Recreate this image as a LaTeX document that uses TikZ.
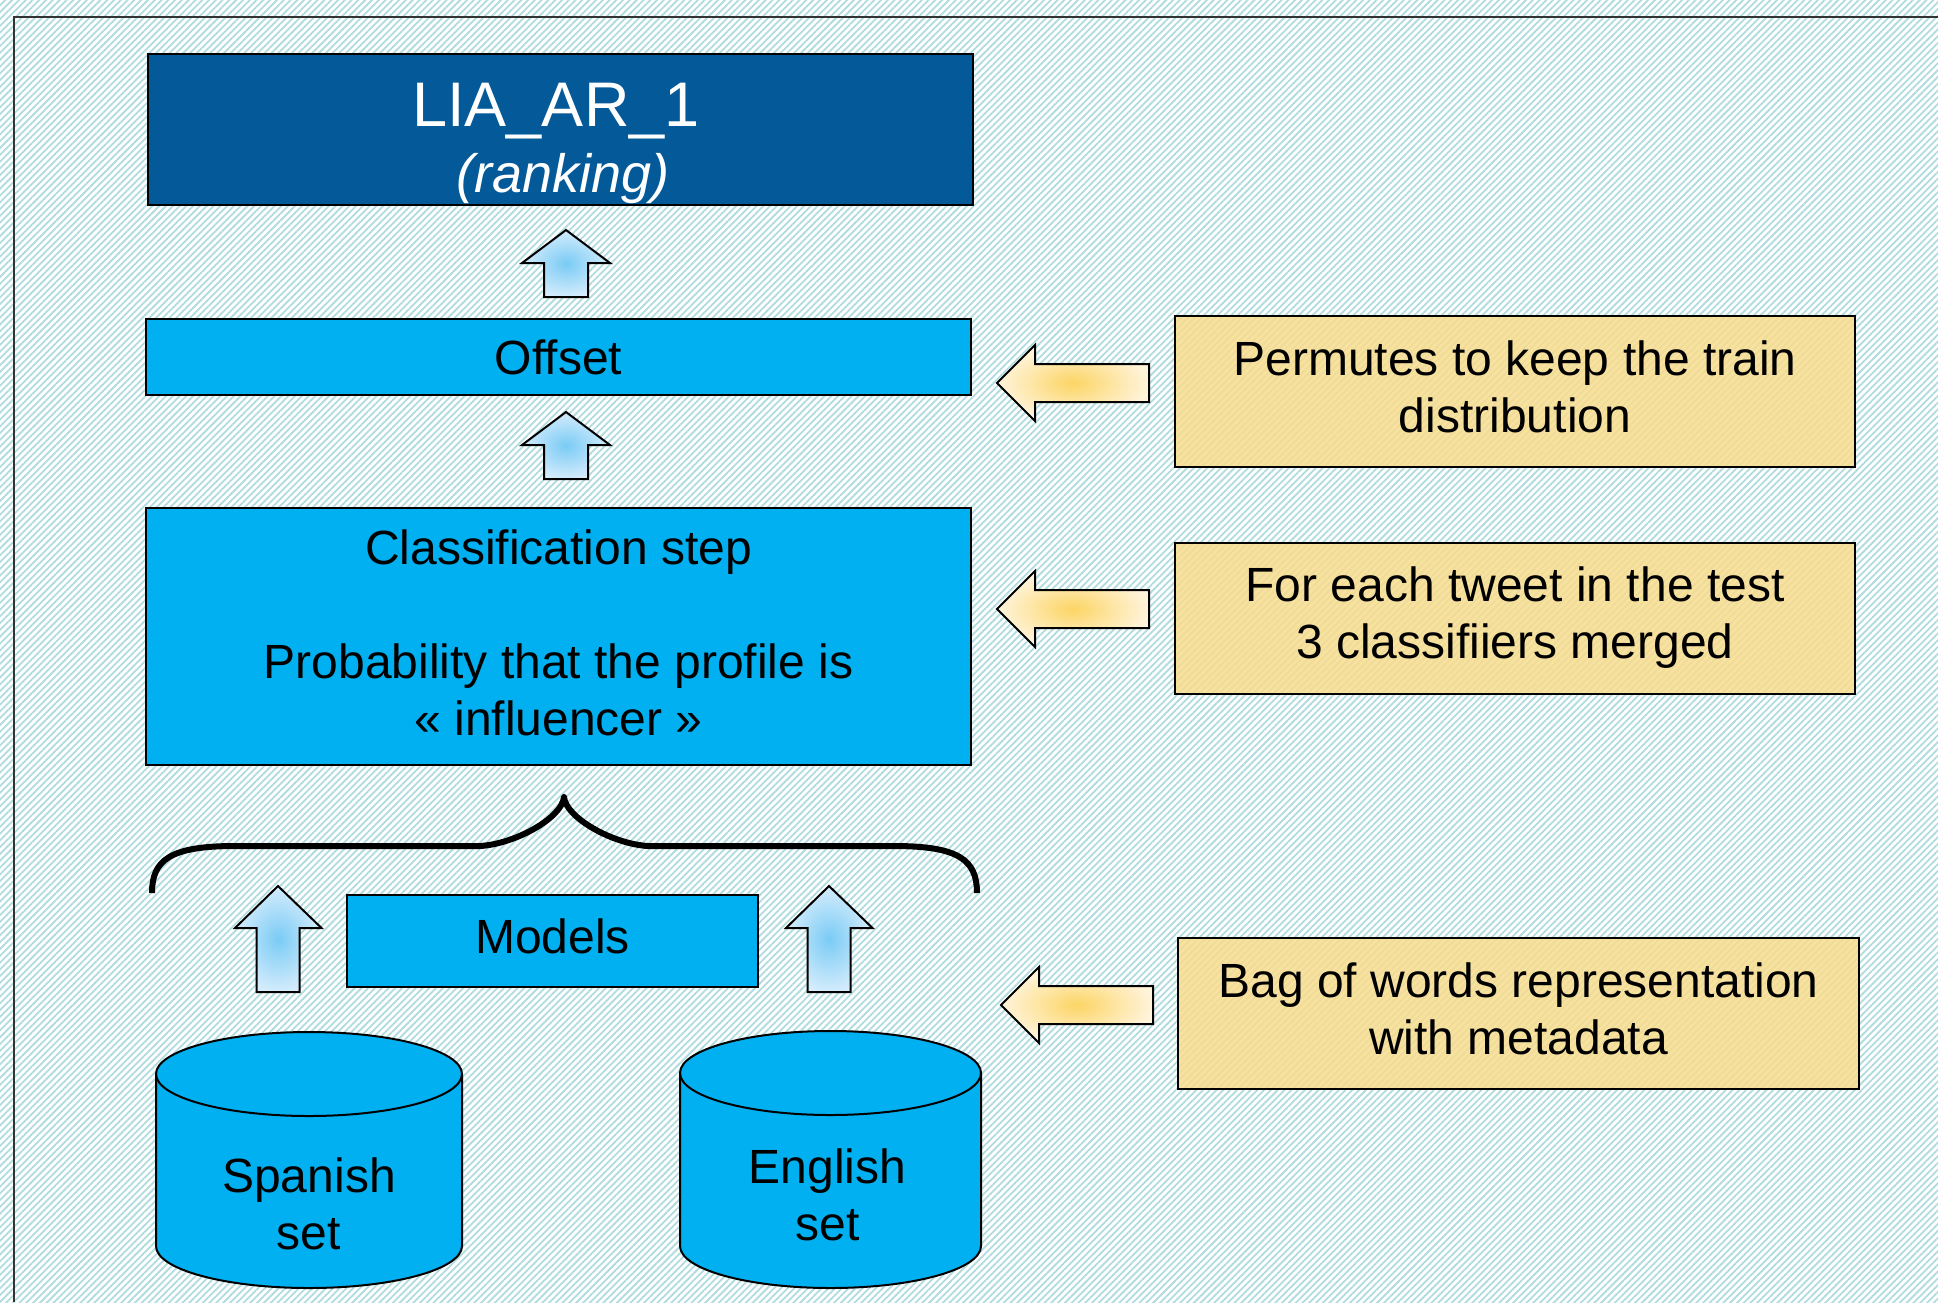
\documentclass[tikz,border=0pt]{standalone}
\usepackage{fontspec}
\setmainfont{Liberation Sans}
\usepackage{tikz}
\usetikzlibrary{patterns.meta}
\definecolor{hatch}{HTML}{B0DCE0}
\definecolor{titleblue}{HTML}{045A98}
\definecolor{boxcyan}{HTML}{00B0F0}
\definecolor{noteyellow}{HTML}{F8DC8E}
\definecolor{bluein}{HTML}{7ACBF5}
\definecolor{blueout}{HTML}{D4ECFC}
\definecolor{yellowin}{HTML}{FCD565}
\definecolor{yellowout}{HTML}{FFF4DC}
\tikzstyle{title} = [draw=black, line width=1pt, fill=titleblue, inner sep=0pt]
\tikzstyle{stage} = [draw=black, line width=1pt, fill=boxcyan, inner sep=0pt, align=center, font={\fontsize{24}{28.5}\selectfont}]
\tikzstyle{note} = [stage, fill=noteyellow, fill opacity=.85, text opacity=1, text depth=5pt]
\tikzstyle{label} = [align=center, font={\fontsize{24}{28.5}\selectfont}]
\tikzstyle{base} = [draw=black, line width=1pt, fill=boxcyan]
\tikzstyle{uparrow} = [draw=black, line width=1pt, inner color=bluein, outer color=blueout]
\tikzstyle{leftarrow} = [draw=black, line width=1pt, inner color=yellowin, outer color=yellowout]

\begin{document}
\begin{tikzpicture}[x=0.5pt, y=-0.5pt]
  \useasboundingbox (0,0) rectangle (1938,1302);
  \fill[white] (0,0) rectangle (1938,1302);
  \fill[pattern={Lines[angle=45,distance=2.4pt,line width=0.9pt]}, pattern color=hatch] (0,0) rectangle (1938,1302);
  \draw[line width=1pt, black!80] (1938,17) -- (14,17) -- (14,1302);

  % left column
  \node[title, minimum width=412.5pt, minimum height=75.5pt](lia) at (560.5,129.5){};
  \node[anchor=base, text=white, font={\fontsize{31.5}{36}\selectfont}](lianame) at (556,126){LIA\_AR\_1};
  \node[anchor=base, text=white, font={\fontsize{27}{32}\selectfont\itshape}](liarank) at (563,192){(ranking)};
  \node[stage, minimum width=412.5pt, minimum height=38pt](offset) at (558.5,357){Offset};
  \node[stage, text depth=4pt, minimum width=412.5pt, minimum height=128.5pt](classif) at (558.5,636.5){Classification step\\[28.5pt]Probability that the profile is\\« influencer »};
  \node[stage, text depth=5pt, minimum width=205.5pt, minimum height=46pt](models) at (552.5,941){Models};

  % right column
  \node[note, minimum width=340pt, minimum height=75.5pt](permute) at (1515,391.5){Permutes to keep the train\\distribution};
  \node[note, minimum width=340pt, minimum height=75.5pt](tweet) at (1515,618){For each tweet in the test\\3 classifiiers merged};
  \node[note, minimum width=340.5pt, minimum height=75.5pt](bow) at (1518.5,1013.5){Bag of words representation\\with metadata};

  % data sets
  \draw[base] (156,1074) -- (156,1246) arc[start angle=180, end angle=0, x radius=153, y radius=42]
    -- (462,1074) arc[start angle=0, end angle=-180, x radius=153, y radius=42] -- cycle;
  \draw[line width=1pt] (156,1074) arc[start angle=180, end angle=0, x radius=153, y radius=42];
  \draw[base] (680,1073) -- (680,1246) arc[start angle=180, end angle=0, x radius=150.5, y radius=42]
    -- (981,1073) arc[start angle=0, end angle=-180, x radius=150.5, y radius=42] -- cycle;
  \draw[line width=1pt] (680,1073) arc[start angle=180, end angle=0, x radius=150.5, y radius=42];
  \node[label](spanish) at (309,1203.5){Spanish\\set};
  \node[label](english) at (827.5,1194.5){English\\set};

  % brace
  \draw[line width=3pt, line join=round] (152,893) .. controls (152,860) and (170,846) .. (235,846) -- (480,846)
    .. controls (515,844) and (562,818) .. (564,797) .. controls (566,818) and (613,844) .. (648,846)
    -- (894,846) .. controls (959,846) and (977,860) .. (977,893);

  % arrows
  \foreach \y in {230,412}
    \draw[uparrow] (566,\y) -- ++(44,33) -- ++(-22,0) -- ++(0,34) -- ++(-44,0) -- ++(0,-34) -- ++(-22,0) -- cycle;
  \foreach \x in {278,829}
    \draw[uparrow] (\x,886) -- ++(43.5,42) -- ++(-22,0) -- ++(0,64) -- ++(-43,0) -- ++(0,-64) -- ++(-21.5,0) -- cycle;
  \foreach \x/\y in {997/383,997/609,1001/1005}
    \draw[leftarrow] (\x,\y) -- ++(38,-38) -- ++(0,19) -- ++(114,0) -- ++(0,38) -- ++(-114,0) -- ++(0,19) -- cycle;
\end{tikzpicture}
\end{document}
